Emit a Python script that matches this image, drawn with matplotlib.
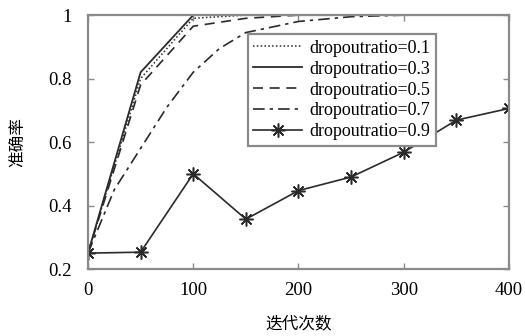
import matplotlib
matplotlib.use("Agg")
import matplotlib.pyplot as plt

plt.rcParams['font.family'] = ['Liberation Serif', 'Noto Sans CJK SC']

# accuracy vs iterations for each dropout ratio
it_a = [0, 50, 100, 150, 200, 250, 300, 350, 400]
acc_01 = [0.25, 0.80, 0.99, 1.0, 1.0, 1.0, 1.0, 1.0, 1.0]
acc_03 = [0.25, 0.82, 1.0, 1.0, 1.0, 1.0, 1.0, 1.0, 1.0]
acc_05 = [0.25, 0.78, 0.965, 0.99, 1.0, 1.0, 1.0, 1.0, 1.0]

it_07 = [0, 25, 50, 75, 100, 125, 150, 200, 250, 300, 350, 400]
acc_07 = [0.25, 0.45, 0.58, 0.71, 0.82, 0.895, 0.945, 0.98, 0.995, 1.0, 1.0, 1.0]

acc_09 = [0.25, 0.253, 0.50, 0.357, 0.447, 0.49, 0.568, 0.669, 0.706]

labels = ['dropoutratio=0.1', 'dropoutratio=0.3', 'dropoutratio=0.5',
          'dropoutratio=0.7', 'dropoutratio=0.9']

fig = plt.figure(figsize=(5.25, 3.36), dpi=100)
ax = fig.add_axes([0.1676, 0.1994, 0.8019, 0.7556])

c = '#2a2a2a'
ax.plot(it_a, acc_01, linestyle=(0, (1, 1.5)), color=c, lw=1.1, label=labels[0])
ax.plot(it_a, acc_03, linestyle='-', color=c, lw=1.3, label=labels[1])
ax.plot(it_a, acc_05, linestyle=(0, (6, 4)), color=c, lw=1.2, label=labels[2])
ax.plot(it_07, acc_07, linestyle=(0, (7, 3, 2, 3)), color=c, lw=1.2, label=labels[3])
ax.plot(it_a, acc_09, linestyle='-', color=c, lw=1.2, marker=(8, 2, 0),
        markersize=10, markeredgewidth=1.1, label=labels[4])

ax.set_xlim(0, 400)
ax.set_ylim(0.2, 1.0)
ax.set_xticks([0, 100, 200, 300, 400])
ax.set_yticks([0.2, 0.4, 0.6, 0.8, 1.0])
ax.set_yticklabels(['0.2', '0.4', '0.6', '0.8', '1'])

for s in ax.spines.values():
    s.set_color('#8a8a8a')
    s.set_linewidth(1.6)
ax.tick_params(direction='in', length=4, width=1, color='#8a8a8a',
               labelsize=13.5, top=True, right=True)
ax.tick_params(axis='x', pad=9)
ax.tick_params(axis='y', pad=12)

ax.set_xlabel('迭代次数', fontsize=12, labelpad=13)
ax.set_ylabel('准确率', fontsize=12, labelpad=15)

leg = ax.legend(loc='upper left', bbox_to_anchor=(0.38, 0.925), fontsize=13,
                handlelength=2.7, handletextpad=0.4, labelspacing=0.22,
                borderpad=0.3, borderaxespad=0, fancybox=False, framealpha=1)
leg.get_frame().set_edgecolor('#8a8a8a')
leg.get_frame().set_linewidth(1.6)

fig.savefig('out.png', dpi=100)
